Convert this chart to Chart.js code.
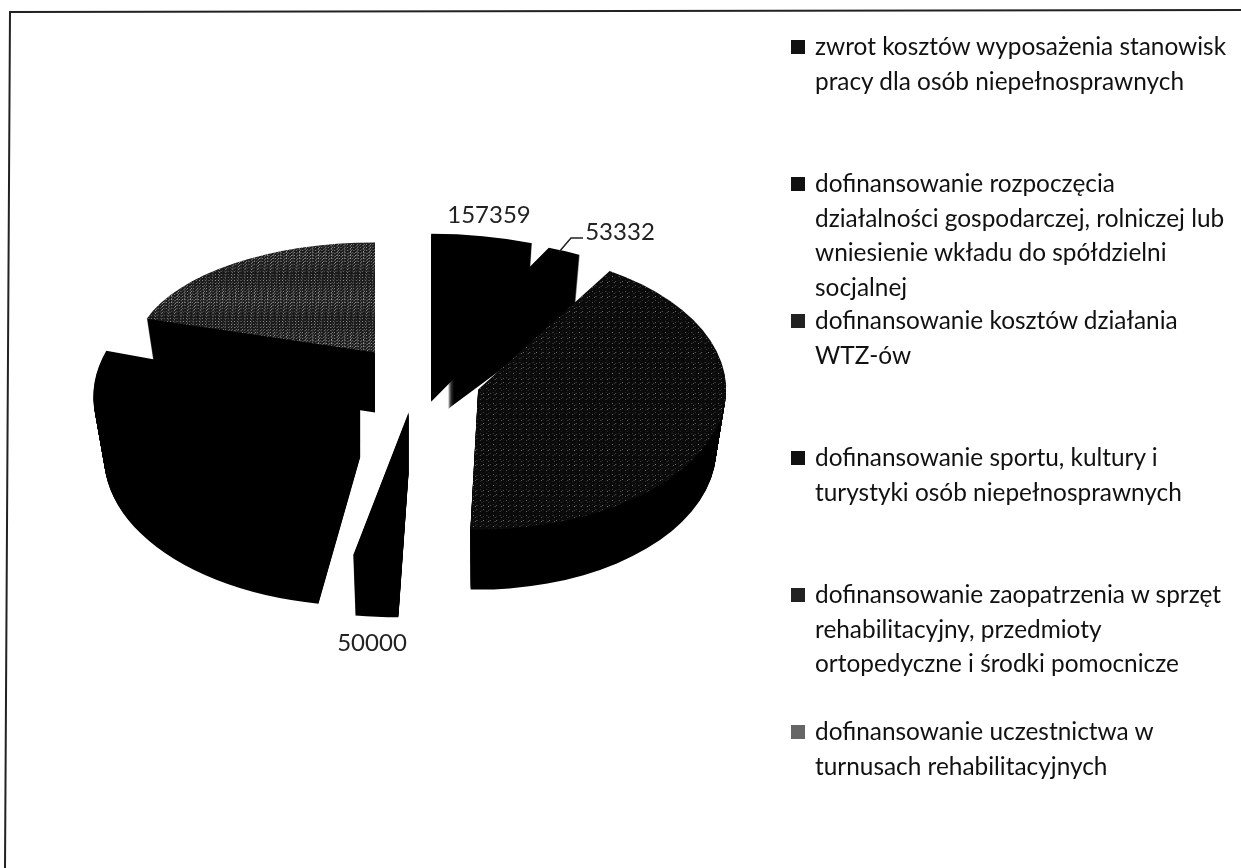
<!DOCTYPE html>
<html lang="pl">
<head>
    <meta charset="UTF-8">
    <title>Dofinansowania</title>
    <script src="https://cdn.jsdelivr.net/npm/chart.js"></script>
    <style>
        html, body { margin: 0; background: #fff; overflow: hidden; }
        #wrap { position: absolute; left: 0; top: 0; width: 1241px; height: 868px; }
        #legend {
            position: absolute; left: 791px; top: 29px; width: 445px;
            font-family: Lato, sans-serif; font-size: 24.4px; line-height: 34.5px; color: #111;
        }
        .item { height: 137px; padding-left: 24px; position: relative; white-space: nowrap; }
        .item i { position: absolute; left: 0; top: 11px; width: 14px; height: 14px; }
    </style>
</head>
<body>
    <div id="wrap"><canvas id="pie"></canvas></div>
    <div id="legend"></div>
    <script>
        const categories = [
            'zwrot kosztów wyposażenia stanowisk pracy dla osób niepełnosprawnych',
            'dofinansowanie rozpoczęcia działalności gospodarczej, rolniczej lub wniesienie wkładu do spółdzielni socjalnej',
            'dofinansowanie kosztów działania WTZ-ów',
            'dofinansowanie sportu, kultury i turystyki osób niepełnosprawnych',
            'dofinansowanie zaopatrzenia w sprzęt rehabilitacyjny, przedmioty ortopedyczne i środki pomocnicze',
            'dofinansowanie uczestnictwa w turnusach rehabilitacyjnych'
        ];
        const legendLines = [
            ['zwrot kosztów wyposażenia stanowisk', 'pracy dla osób niepełnosprawnych'],
            ['dofinansowanie rozpoczęcia', 'działalności gospodarczej, rolniczej lub', 'wniesienie wkładu do spółdzielni', 'socjalnej'],
            ['dofinansowanie kosztów działania', 'WTZ-ów'],
            ['dofinansowanie sportu, kultury i', 'turystyki osób niepełnosprawnych'],
            ['dofinansowanie zaopatrzenia w sprzęt', 'rehabilitacyjny, przedmioty', 'ortopedyczne i środki pomocnicze'],
            ['dofinansowanie uczestnictwa w', 'turnusach rehabilitacyjnych']
        ];
        // only the first, second and fourth values can be read, the rest are estimated from the angles
        const values = [157359, 53332, 985000, 50000, 648000, 474000];
        const shownLabels = [0, 1, 3];

        // look of the tilted, exploded pie
        const explode = [78, 70, 66, 65, 64, 68];
        const radiusX = [249, 249, 248, 340, 267, 240];
        const radiusY = [108, 111, 140, 145, 149, 110];
        const drawOrder = [5, 0, 1, 4, 2, 3];
        const depth = 60;
        const wallShrink = 0.04;
        const labelPos = { 0: [489, 215], 1: [620, 232], 3: [372, 643] };

        // speckle tile, dark with light dots
        function speckle(dots, base, dot) {
            const c = document.createElement('canvas');
            c.width = c.height = 8;
            const x = c.getContext('2d');
            x.fillStyle = base;
            x.fillRect(0, 0, 8, 8);
            x.fillStyle = dot;
            dots.forEach(d => x.fillRect(d[0], d[1], 1, 1));
            return x.createPattern(c, 'repeat');
        }
        const dense = speckle([[0, 0], [4, 1], [2, 3], [6, 3], [1, 5], [5, 6], [3, 7], [7, 7], [0, 3], [4, 5]], '#1a1a1a', '#a8a8a8');
        const sparse = speckle([[1, 1], [5, 4], [3, 6]], '#0a0a0a', '#8c8c8c');
        const colors = ['#000', '#000', sparse, '#000', '#000', dense];
        const markerColors = ['#111', '#111', '#222', '#111', '#222', '#666'];

        const tiltedPie = {
            id: 'tiltedPie',
            beforeDraw(chart) {
                // scanned frame, slightly skewed
                const ctx = chart.ctx;
                ctx.save();
                ctx.strokeStyle = '#222';
                ctx.lineWidth = 2;
                ctx.beginPath();
                ctx.moveTo(5, 868);
                ctx.lineTo(10, 12);
                ctx.lineTo(1241, 10);
                ctx.stroke();
                ctx.restore();
            },
            beforeDatasetsDraw(chart) {
                const ctx = chart.ctx;
                const arcs = chart.getDatasetMeta(0).data;
                drawOrder.forEach(i => {
                    const arc = arcs[i];
                    const mid = (arc.startAngle + arc.endAngle) / 2;
                    const sx = radiusX[i] / arc.outerRadius;
                    const sy = radiusY[i] / arc.outerRadius;
                    const wall = Object.create(arc);
                    wall.options = Object.assign({}, arc.options, { backgroundColor: '#000' });
                    for (let d = depth; d >= 0; d--) {
                        const shrink = 1 - wallShrink * d / depth;
                        ctx.save();
                        ctx.translate(arc.x + Math.cos(mid) * explode[i], arc.y + Math.sin(mid) * explode[i] * 0.5 + d);
                        ctx.scale(sx * shrink, sy);
                        ctx.translate(-arc.x, -arc.y);
                        (d === 0 ? arc : wall).draw(ctx);
                        ctx.restore();
                    }
                });
                return false;
            },
            afterDraw(chart) {
                // value labels, beforeDatasetsDraw returning false skips the later dataset hooks
                const ctx = chart.ctx;
                ctx.save();
                ctx.fillStyle = '#222';
                ctx.font = '24px Lato, sans-serif';
                ctx.textAlign = 'center';
                ctx.textBaseline = 'middle';
                shownLabels.forEach(i => {
                    ctx.fillText(String(values[i]), labelPos[i][0], labelPos[i][1]);
                });
                // leader for the small slice
                ctx.strokeStyle = '#222';
                ctx.lineWidth = 1.5;
                ctx.beginPath();
                ctx.moveTo(559, 252);
                ctx.lineTo(571, 238);
                ctx.lineTo(583, 238);
                ctx.stroke();
                ctx.restore();
            }
        };

        new Chart(document.getElementById('pie'), {
            type: 'pie',
            plugins: [tiltedPie],
            data: {
                labels: categories,
                datasets: [{ data: values, backgroundColor: colors, borderWidth: 0 }]
            },
            options: {
                responsive: true,
                maintainAspectRatio: false,
                animation: false,
                layout: { padding: { left: 115, right: 526, top: 80, bottom: 188 } },
                plugins: { legend: { display: false }, tooltip: { enabled: false } }
            }
        });

        const legend = document.getElementById('legend');
        legendLines.forEach((lines, i) => {
            const item = document.createElement('div');
            item.className = 'item';
            item.innerHTML = '<i style="background:' + markerColors[i] + '"></i>' + lines.join('<br>');
            legend.appendChild(item);
        });
    </script>
</body>
</html>
